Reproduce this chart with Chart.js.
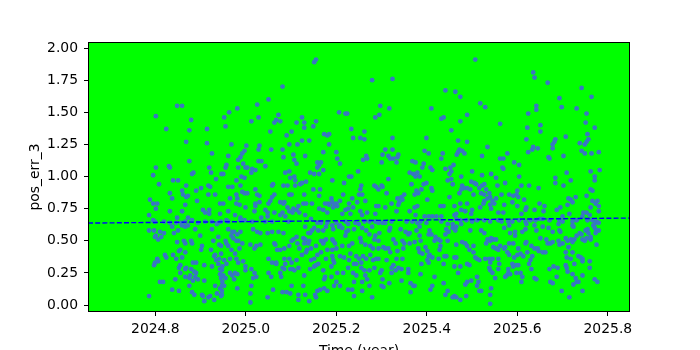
<!DOCTYPE html>
<html><head><meta charset="utf-8">
<script src="https://cdn.jsdelivr.net/npm/chart.js@4"></script>
<style>html,body{margin:0;padding:0;background:#fff}canvas{display:block}</style>
</head><body>
<canvas id="c" width="700" height="350"></canvas>
<script>
// observation epochs (decimal year)
const timeYear = [
2024.848,2024.859,2024.801,2024.879,2024.824,2024.875,2024.914,2024.868,2024.914,2024.925,
2024.875,2024.801,2024.830,2024.832,2024.919,2024.795,2024.881,2024.884,2024.923,2024.946,
2024.808,2024.839,2024.850,2024.868,2024.917,2024.921,2024.901,2024.934,2024.859,2024.890,
2024.832,2024.917,2024.861,2024.872,2024.868,2024.932,2024.788,2024.837,2024.892,2024.795,
2024.804,2024.866,2024.943,2024.801,2024.832,2024.859,2024.905,2024.910,2024.919,2024.919,
2024.943,2024.786,2024.872,2024.848,2024.795,2024.799,2024.819,2024.832,2024.846,2024.857,
2024.866,2024.881,2024.894,2024.910,2024.925,2024.939,2024.859,2024.866,2024.872,2024.786,
2024.797,2024.810,2024.819,2024.837,2024.841,2024.850,2024.888,2024.899,2024.925,2024.936,
2024.945,2024.801,2024.799,2024.806,2024.813,2024.848,2024.863,2024.866,2024.879,2024.881,
2024.903,2024.901,2024.928,2024.939,2024.941,2024.945,2024.852,2024.855,2024.866,2024.821,
2024.824,2024.839,2024.846,2024.859,2024.923,2024.932,2024.930,2024.934,2024.941,2024.945,
2024.804,2024.799,2024.797,2024.806,2024.883,2024.855,2024.852,2024.868,2024.866,2024.879,
2024.890,2024.886,2024.890,2024.908,2024.925,2024.939,2024.943,2024.948,2024.855,2024.866,
2024.877,2024.875,2024.888,2024.883,2024.894,2024.908,2024.844,2024.810,2024.817,2024.943,
2024.945,2024.948,2024.932,2024.875,2024.881,2024.886,2024.837,2024.852,2024.903,2024.905,
2024.908,2024.917,2024.921,2024.930,2024.786,2024.943,2024.936,2024.945,
2025.081,2025.050,2025.025,2024.981,2024.963,2024.952,2025.072,2025.067,2025.076,2025.063,
2024.955,2025.012,2025.028,2025.112,2025.054,2025.101,2025.090,2024.968,2025.001,2025.030,
2025.028,2025.056,2025.081,2025.096,2025.114,2024.997,2024.992,2024.988,2024.983,2024.961,
2025.083,2025.105,2025.107,2025.112,2025.028,2025.034,2024.994,2024.999,2024.957,2024.955,
2025.043,2025.014,2025.021,2025.012,2025.003,2024.983,2025.087,2025.096,2025.107,2025.109,
2024.950,2024.990,2024.997,2024.979,2024.988,2024.961,2024.970,2025.060,2025.058,2025.083,
2025.098,2025.092,2025.109,2025.120,2025.021,2025.025,2025.030,2024.992,2024.997,2025.003,
2024.979,2024.981,2024.986,2024.979,2024.965,2025.063,2025.058,2025.054,2025.050,2025.030,
2025.021,2025.021,2024.999,2025.076,2025.085,2025.096,2025.101,2025.083,2025.092,2025.116,
2025.112,2025.103,2025.096,2025.105,2025.043,2025.048,2025.063,2025.081,2024.950,2024.961,
2024.976,2024.988,2024.997,2025.019,2025.034,2025.048,2025.076,2025.118,2025.087,2024.957,
2024.961,2024.988,2025.014,2025.043,2025.058,2025.094,2024.961,2024.970,2024.974,2024.981,
2024.988,2024.968,2024.972,2024.979,2024.983,2024.992,2025.010,2025.019,2025.023,2025.032,
2025.016,2025.025,2025.032,2025.048,2025.058,2025.072,2025.083,2025.063,2025.065,2025.069,
2025.076,2025.085,2025.096,2025.101,2025.105,2025.112,2025.114,2025.118,2024.957,2024.961,
2024.968,2024.976,2024.986,2024.955,2024.952,2024.957,2024.965,2024.979,2024.983,2024.994,
2024.999,2025.012,2025.019,2025.023,2025.016,2025.050,2025.058,2025.067,2025.067,2025.085,
2025.087,2025.096,2025.101,2025.112,2025.103,2025.098,2025.107,2025.116,2025.081,2025.085,
2025.076,2025.078,2025.056,2025.050,2024.947,2024.950,2024.955,2024.965,2024.970,2024.976,
2024.981,2024.974,2024.999,2024.947,2024.952,2024.947,2024.947,2024.981,2025.012,2025.010,
2025.010,2025.048,2025.060,2025.081,2025.090,2025.098,2025.101,2025.116,2025.116,
2025.155,2025.151,2025.279,2025.206,2025.220,2025.224,2025.286,2025.124,2025.129,2025.129,
2025.155,2025.149,2025.233,2025.262,2025.237,2025.253,2025.262,2025.124,2025.140,2025.173,
2025.180,2025.184,2025.184,2025.171,2025.200,2025.131,2025.158,2025.166,2025.162,2025.158,
2025.171,2025.202,2025.208,2025.266,2025.268,2025.259,2025.248,2025.228,2025.233,2025.217,
2025.191,2025.142,2025.151,2025.162,2025.124,2025.133,2025.149,2025.164,2025.129,2025.162,
2025.146,2025.127,2025.133,2025.284,2025.288,2025.255,2025.253,2025.250,2025.257,2025.264,
2025.246,2025.235,2025.228,2025.215,2025.208,2025.200,2025.189,2025.191,2025.182,2025.184,
2025.175,2025.171,2025.162,2025.180,2025.202,2025.195,2025.193,2025.220,2025.226,2025.237,
2025.253,2025.257,2025.288,2025.286,2025.268,2025.144,2025.131,2025.213,2025.231,2025.158,
2025.166,2025.180,2025.191,2025.200,2025.208,2025.220,2025.226,2025.242,2025.250,2025.262,
2025.273,2025.279,2025.286,2025.131,2025.151,2025.146,2025.142,2025.138,2025.160,2025.171,
2025.177,2025.193,2025.206,2025.213,2025.222,2025.220,2025.226,2025.239,2025.257,2025.266,
2025.273,2025.286,2025.284,2025.127,2025.131,2025.140,2025.138,2025.129,2025.135,2025.144,
2025.155,2025.166,2025.173,2025.177,2025.191,2025.193,2025.197,2025.171,2025.180,2025.191,
2025.200,2025.213,2025.228,2025.235,2025.253,2025.255,2025.264,2025.275,2025.281,2025.124,
2025.133,2025.144,2025.151,2025.158,2025.166,2025.177,2025.191,2025.193,2025.195,2025.208,
2025.217,2025.228,2025.231,2025.239,2025.244,2025.244,2025.250,2025.255,2025.255,2025.259,
2025.266,2025.275,2025.281,2025.288,2025.284,2025.273,2025.262,2025.264,2025.129,2025.142,
2025.151,2025.155,2025.160,2025.171,2025.173,2025.175,2025.189,2025.189,2025.195,2025.200,
2025.202,2025.208,2025.215,2025.226,2025.226,2025.237,2025.239,2025.244,2025.257,2025.268,
2025.273,2025.279,2025.127,2025.131,2025.140,2025.153,2025.155,2025.158,2025.164,2025.173,
2025.180,2025.235,2025.239,2025.257,
2025.324,2025.441,2025.463,2025.297,2025.317,2025.410,2025.295,2025.437,2025.432,2025.454,
2025.324,2025.399,2025.308,2025.324,2025.302,2025.315,2025.319,2025.326,2025.337,2025.335,
2025.300,2025.333,2025.395,2025.404,2025.435,2025.432,2025.466,2025.368,2025.375,2025.393,
2025.390,2025.408,2025.412,2025.459,2025.452,2025.441,2025.454,2025.450,2025.454,2025.446,
2025.457,2025.362,2025.370,2025.375,2025.384,2025.379,2025.315,2025.366,2025.393,2025.399,
2025.410,2025.412,2025.300,2025.302,2025.293,2025.311,2025.350,2025.344,2025.335,2025.346,
2025.339,2025.337,2025.322,2025.377,2025.381,2025.373,2025.388,2025.401,2025.379,2025.373,
2025.362,2025.293,2025.308,2025.333,2025.430,2025.437,2025.450,2025.461,2025.375,2025.395,
2025.404,2025.412,2025.421,2025.432,2025.461,2025.293,2025.302,2025.308,2025.322,2025.355,
2025.368,2025.379,2025.386,2025.399,2025.432,2025.446,2025.457,2025.319,2025.295,2025.293,
2025.317,2025.342,2025.353,2025.359,2025.362,2025.384,2025.377,2025.384,2025.406,2025.410,
2025.404,2025.419,2025.426,2025.430,2025.417,2025.443,2025.448,2025.463,2025.441,2025.457,
2025.326,2025.331,2025.346,2025.350,2025.362,2025.373,2025.386,2025.348,2025.304,2025.308,
2025.315,2025.293,2025.335,2025.319,2025.381,2025.384,2025.390,2025.397,2025.401,2025.406,
2025.404,2025.412,2025.401,2025.428,2025.430,2025.446,2025.443,2025.439,2025.426,2025.461,
2025.293,2025.311,2025.333,2025.346,2025.326,2025.322,2025.331,2025.337,2025.344,2025.359,
2025.359,2025.388,2025.404,2025.437,2025.461,2025.300,2025.297,2025.322,2025.302,2025.317,
2025.300,2025.304,2025.386,2025.344,2025.364,2025.373,2025.370,2025.417,2025.437,2025.412,
2025.408,2025.364,2025.446,2025.441,2025.461,2025.457,
2025.507,2025.635,2025.638,2025.474,2025.518,2025.529,2025.489,2025.624,2025.474,2025.562,
2025.622,2025.620,2025.469,2025.489,2025.472,2025.469,2025.478,2025.483,2025.534,2025.624,
2025.635,2025.633,2025.522,2025.562,2025.569,2025.578,2025.567,2025.569,2025.593,2025.604,
2025.476,2025.500,2025.522,2025.542,2025.553,2025.573,2025.556,2025.604,2025.609,2025.626,
2025.478,2025.483,2025.476,2025.472,2025.489,2025.496,2025.503,2025.498,2025.505,2025.509,
2025.516,2025.522,2025.527,2025.531,2025.520,2025.527,2025.538,2025.540,2025.534,2025.527,
2025.525,2025.540,2025.549,2025.545,2025.553,2025.565,2025.582,2025.591,2025.598,2025.600,
2025.602,2025.615,2025.571,2025.589,2025.620,2025.474,2025.489,2025.476,2025.485,2025.500,
2025.518,2025.542,2025.558,2025.569,2025.600,2025.609,2025.618,2025.638,2025.465,2025.498,
2025.465,2025.474,2025.487,2025.500,2025.511,2025.527,2025.540,2025.558,2025.565,2025.580,
2025.589,2025.604,2025.618,2025.620,2025.629,2025.476,2025.465,2025.571,2025.582,2025.584,
2025.595,2025.595,2025.611,2025.618,2025.638,2025.496,2025.527,2025.534,2025.540,2025.547,
2025.553,2025.542,2025.520,2025.465,2025.478,2025.485,2025.489,2025.503,2025.503,2025.494,
2025.531,2025.547,2025.553,2025.558,2025.562,2025.571,2025.573,2025.582,2025.591,2025.602,
2025.618,2025.620,2025.631,2025.638,2025.465,2025.474,2025.489,2025.494,2025.507,2025.511,
2025.516,2025.529,2025.538,2025.540,2025.545,2025.558,2025.560,2025.578,2025.582,2025.593,
2025.600,2025.607,2025.613,2025.622,2025.626,2025.629,2025.633,2025.538,2025.540,2025.545,
2025.558,2025.580,2025.589,2025.591,2025.598,2025.602,2025.580,2025.576,2025.584,2025.573,
2025.598,2025.607,2025.611,2025.609,2025.631,2025.638,2025.469,2025.485,2025.489,2025.498,
2025.511,2025.514,2025.511,2025.516,2025.520,2025.551,2025.542,2025.540,2025.540,2025.474,
2025.487,2025.465,
2025.667,2025.742,2025.764,2025.693,2025.698,2025.642,2025.642,2025.731,2025.753,2025.751,
2025.651,2025.651,2025.771,2025.755,2025.757,2025.753,2025.749,2025.707,2025.684,2025.682,
2025.678,2025.678,2025.738,2025.645,2025.742,2025.749,2025.764,2025.780,2025.702,2025.669,
2025.671,2025.782,2025.709,2025.762,2025.771,2025.771,2025.684,2025.684,2025.718,2025.702,
2025.647,2025.762,2025.766,2025.753,2025.729,2025.713,2025.718,2025.722,2025.711,2025.766,
2025.777,2025.773,2025.780,2025.762,2025.780,2025.649,2025.660,2025.658,2025.695,2025.687,
2025.715,2025.700,2025.746,2025.753,2025.760,2025.744,2025.640,2025.649,2025.656,2025.671,
2025.693,2025.700,2025.722,2025.731,2025.766,2025.775,2025.773,2025.768,2025.780,2025.755,
2025.669,2025.656,2025.642,2025.678,2025.693,2025.695,2025.691,2025.722,2025.724,2025.738,
2025.731,2025.742,2025.751,2025.755,2025.757,2025.744,2025.749,2025.753,2025.762,2025.771,
2025.775,2025.780,2025.773,2025.651,2025.664,2025.667,2025.673,2025.678,2025.691,2025.693,
2025.700,2025.707,2025.711,2025.718,2025.713,2025.722,2025.726,2025.762,2025.775,2025.645,
2025.647,2025.656,2025.662,2025.707,2025.709,2025.722,2025.735,2025.740,2025.744,2025.744,
2025.760,2025.718,2025.671,2025.680,2025.689,2025.707,2025.709,2025.711,2025.726,2025.760,
2025.722,2025.744,2025.729,2025.731,2025.735,2025.724,2025.771,2025.777,2025.642,2025.673,
2025.678,2025.698,2025.744,2025.715,2025.687
];
// pos_err_3 value of each observation
const posErr3 = [
1.55,1.55,1.47,1.44,1.37,1.36,1.37,1.27,1.26,1.18,
1.12,1.07,1.08,1.07,1.07,1.01,1.02,1.03,1.03,1.02,
0.94,0.97,0.97,0.93,0.93,0.92,0.91,0.98,0.89,0.89,
0.87,0.86,0.86,0.85,0.84,0.86,0.82,0.83,0.81,0.79,
0.79,0.78,0.79,0.75,0.73,0.73,0.74,0.72,0.74,0.71,
0.71,0.70,0.68,0.68,0.66,0.65,0.65,0.64,0.64,0.64,
0.65,0.66,0.64,0.65,0.65,0.64,0.62,0.61,0.62,0.58,
0.58,0.57,0.56,0.61,0.56,0.58,0.59,0.54,0.59,0.63,
0.65,0.54,0.53,0.51,0.53,0.49,0.50,0.48,0.50,0.48,
0.46,0.43,0.50,0.53,0.47,0.46,0.42,0.43,0.41,0.39,
0.37,0.39,0.36,0.37,0.43,0.39,0.38,0.35,0.36,0.40,
0.36,0.33,0.31,0.34,0.33,0.31,0.29,0.29,0.28,0.28,
0.33,0.26,0.25,0.31,0.30,0.32,0.28,0.30,0.25,0.22,
0.23,0.21,0.22,0.19,0.20,0.19,0.20,0.18,0.18,0.24,
0.21,0.18,0.15,0.15,0.10,0.08,0.12,0.11,0.08,0.07,
0.03,0.06,0.07,0.04,0.07,0.13,0.09,0.07,
1.70,1.60,1.56,1.53,1.50,1.46,1.48,1.44,1.43,1.42,
1.39,1.43,1.46,1.42,1.35,1.35,1.32,1.25,1.24,1.24,
1.21,1.21,1.21,1.25,1.25,1.20,1.18,1.15,1.13,1.16,
1.15,1.17,1.13,1.10,1.12,1.12,1.10,1.07,1.09,1.07,
1.08,1.06,1.05,1.03,1.07,1.07,1.03,1.04,1.00,0.97,
1.02,1.00,0.99,0.97,0.93,0.92,0.92,0.94,0.93,0.93,
0.99,0.93,0.93,0.94,0.90,0.86,0.85,0.88,0.87,0.87,
0.86,0.83,0.78,0.79,0.83,0.86,0.84,0.81,0.79,0.80,
0.79,0.77,0.76,0.80,0.80,0.86,0.86,0.79,0.76,0.77,
0.74,0.72,0.73,0.75,0.74,0.72,0.72,0.72,0.79,0.73,
0.70,0.68,0.66,0.73,0.68,0.69,0.70,0.72,0.69,0.66,
0.65,0.66,0.65,0.65,0.65,0.65,0.59,0.57,0.57,0.55,
0.57,0.54,0.52,0.50,0.50,0.48,0.47,0.44,0.46,0.47,
0.59,0.57,0.56,0.56,0.57,0.57,0.56,0.48,0.47,0.43,
0.43,0.44,0.46,0.50,0.51,0.53,0.48,0.44,0.48,0.46,
0.43,0.40,0.44,0.50,0.35,0.32,0.36,0.36,0.33,0.34,
0.30,0.28,0.25,0.22,0.21,0.36,0.33,0.33,0.32,0.36,
0.32,0.36,0.33,0.35,0.28,0.28,0.27,0.29,0.29,0.28,
0.25,0.22,0.22,0.25,0.27,0.23,0.21,0.25,0.23,0.25,
0.24,0.20,0.27,0.15,0.15,0.11,0.08,0.13,0.15,0.09,
0.02,0.06,0.12,0.10,0.10,0.09,0.15,0.08,0.04,
1.91,1.89,1.75,1.50,1.49,1.49,1.46,1.46,1.42,1.38,
1.43,1.39,1.37,1.35,1.30,1.30,1.29,1.28,1.28,1.33,
1.32,1.33,1.25,1.19,1.19,1.16,1.11,1.11,1.09,1.07,
1.05,1.14,1.10,1.16,1.14,1.13,1.04,1.00,1.00,0.95,
0.97,1.03,1.02,1.02,0.95,0.96,0.90,0.90,0.86,0.85,
0.79,0.79,0.79,0.93,0.92,0.93,0.90,0.86,0.86,0.81,
0.80,0.83,0.79,0.86,0.81,0.79,0.83,0.80,0.79,0.78,
0.79,0.74,0.75,0.72,0.77,0.78,0.76,0.74,0.75,0.76,
0.73,0.70,0.77,0.71,0.72,0.67,0.70,0.71,0.71,0.64,
0.64,0.64,0.62,0.64,0.62,0.65,0.63,0.64,0.63,0.65,
0.65,0.61,0.65,0.61,0.60,0.58,0.56,0.56,0.58,0.58,
0.61,0.59,0.61,0.60,0.57,0.54,0.58,0.59,0.60,0.58,
0.55,0.54,0.51,0.52,0.51,0.50,0.48,0.48,0.43,0.44,
0.46,0.50,0.50,0.51,0.51,0.50,0.48,0.48,0.43,0.43,
0.44,0.46,0.46,0.48,0.52,0.49,0.47,0.46,0.44,0.39,
0.41,0.35,0.36,0.39,0.41,0.36,0.38,0.35,0.33,0.38,
0.37,0.35,0.40,0.32,0.38,0.32,0.36,0.33,0.29,0.38,
0.36,0.39,0.35,0.36,0.29,0.27,0.27,0.23,0.23,0.28,
0.30,0.31,0.32,0.27,0.20,0.22,0.30,0.22,0.15,0.18,
0.25,0.15,0.25,0.29,0.12,0.25,0.18,0.23,0.18,0.20,
0.15,0.06,0.15,0.08,0.03,0.08,0.06,0.11,0.12,0.13,
0.11,0.12,0.07,0.11,
1.76,1.67,1.66,1.55,1.53,1.53,1.48,1.46,1.45,1.36,
1.30,1.30,1.21,1.21,1.17,1.16,1.14,1.14,1.17,1.15,
1.11,1.11,1.20,1.18,1.18,1.14,1.17,1.12,1.11,1.10,
1.07,1.07,1.05,1.09,1.07,1.06,1.04,1.02,0.98,0.97,
0.94,1.03,1.02,1.00,1.00,1.03,0.98,0.94,0.94,0.95,
0.91,0.89,0.93,0.92,0.90,0.87,0.86,0.84,0.83,0.82,
0.80,0.78,0.79,0.89,0.87,0.86,0.90,0.82,0.77,0.76,
0.73,0.77,0.76,0.73,0.77,0.77,0.84,0.77,0.70,0.69,
0.69,0.69,0.69,0.69,0.70,0.64,0.64,0.64,0.65,0.65,
0.65,0.64,0.65,0.64,0.65,0.63,0.63,0.60,0.56,0.50,
0.58,0.59,0.57,0.55,0.56,0.61,0.58,0.54,0.58,0.55,
0.55,0.53,0.51,0.50,0.50,0.59,0.57,0.58,0.55,0.60,
0.51,0.48,0.50,0.48,0.48,0.49,0.50,0.44,0.45,0.44,
0.44,0.44,0.42,0.41,0.44,0.41,0.40,0.45,0.42,0.39,
0.38,0.37,0.35,0.43,0.46,0.50,0.38,0.38,0.36,0.37,
0.36,0.35,0.36,0.36,0.31,0.29,0.27,0.29,0.28,0.28,
0.25,0.32,0.33,0.32,0.30,0.27,0.25,0.25,0.20,0.17,
0.15,0.14,0.24,0.19,0.17,0.15,0.15,0.22,0.17,0.15,
0.12,0.10,0.11,0.08,0.07,0.06,
1.91,1.81,1.77,1.62,1.57,1.54,1.48,1.49,1.43,1.41,
1.38,1.29,1.28,1.27,1.21,1.19,1.20,1.18,1.23,1.19,
1.23,1.21,1.16,1.14,1.14,1.18,1.07,1.06,1.11,1.09,
1.00,1.04,1.01,1.02,0.99,0.95,0.93,1.00,0.93,0.93,
0.93,0.91,0.90,0.87,0.91,0.90,0.86,0.96,0.95,0.94,
0.91,0.93,0.94,0.90,0.87,0.86,0.87,0.84,0.83,0.81,
0.79,0.78,0.79,0.81,0.83,0.86,0.86,0.85,0.86,0.89,
0.84,0.82,0.78,0.80,0.76,0.79,0.79,0.74,0.73,0.74,
0.76,0.75,0.72,0.72,0.77,0.71,0.74,0.74,0.71,0.71,
0.67,0.66,0.66,0.65,0.66,0.66,0.65,0.66,0.65,0.65,
0.65,0.66,0.65,0.63,0.66,0.63,0.61,0.60,0.62,0.56,
0.57,0.54,0.57,0.59,0.62,0.58,0.56,0.51,0.50,0.51,
0.51,0.52,0.58,0.47,0.49,0.48,0.46,0.46,0.41,0.43,
0.48,0.45,0.44,0.43,0.46,0.44,0.45,0.48,0.48,0.44,
0.48,0.49,0.46,0.44,0.37,0.30,0.32,0.31,0.37,0.36,
0.35,0.36,0.36,0.33,0.36,0.36,0.32,0.41,0.39,0.37,
0.39,0.40,0.38,0.41,0.32,0.35,0.38,0.29,0.27,0.25,
0.28,0.28,0.32,0.30,0.31,0.31,0.25,0.23,0.24,0.22,
0.25,0.25,0.22,0.18,0.28,0.21,0.25,0.16,0.18,0.19,
0.22,0.18,0.15,0.11,0.11,0.21,0.13,0.08,0.01,0.04,
0.07,0.06,
1.73,1.69,1.62,1.61,1.54,1.55,1.52,1.53,1.49,1.42,
1.40,1.35,1.38,1.33,1.29,1.27,1.25,1.31,1.29,1.27,
1.25,1.22,1.26,1.22,1.20,1.18,1.18,1.19,1.16,1.15,
1.14,1.05,1.03,1.04,1.00,0.97,0.99,0.95,0.97,0.93,
0.91,0.90,0.89,0.85,0.84,0.83,0.82,0.80,0.78,0.81,
0.81,0.79,0.77,0.76,0.73,0.79,0.77,0.73,0.76,0.74,
0.71,0.69,0.72,0.72,0.70,0.69,0.66,0.67,0.67,0.66,
0.66,0.65,0.65,0.66,0.66,0.65,0.64,0.62,0.64,0.66,
0.60,0.61,0.58,0.57,0.58,0.57,0.63,0.62,0.61,0.56,
0.54,0.55,0.58,0.59,0.56,0.51,0.50,0.52,0.51,0.60,
0.58,0.58,0.56,0.52,0.51,0.48,0.48,0.49,0.50,0.47,
0.48,0.52,0.50,0.51,0.45,0.49,0.51,0.53,0.47,0.44,
0.42,0.41,0.41,0.41,0.37,0.41,0.38,0.37,0.36,0.34,
0.34,0.36,0.28,0.30,0.29,0.31,0.29,0.26,0.32,0.29,
0.24,0.23,0.21,0.18,0.18,0.16,0.20,0.18,0.20,0.18,
0.17,0.11,0.11,0.06,0.22
];
// linear trend endpoints (year, value)
const trendYears = [2024.651, 2025.849];
const trendValues = [0.638, 0.677];
// axis ranges and ticks
const xRange = [2024.651, 2025.849];
const yRange = [-0.054, 2.047];
const xTicks = [2024.8, 2025.0, 2025.2, 2025.4, 2025.6, 2025.8];
const yTicks = [0, 0.25, 0.5, 0.75, 1.0, 1.25, 1.5, 1.75, 2.0];

const points = timeYear.map((t, i) => ({x: t, y: posErr3[i]}));
const trend = trendYears.map((t, i) => ({x: t, y: trendValues[i]}));

const font = {family: 'DejaVu Sans', size: 13.9};

const frame = {
  id: 'frame',
  beforeDraw(chart) {
    const {ctx, chartArea: a} = chart;
    ctx.save();
    ctx.fillStyle = '#00ff00';
    ctx.fillRect(a.left, a.top, a.width, a.height);
    ctx.restore();
  },
  afterDraw(chart) {
    const {ctx, chartArea: a} = chart;
    ctx.save();
    ctx.strokeStyle = '#000';
    ctx.lineWidth = 1;
    ctx.strokeRect(a.left + 0.5, a.top + 0.5, a.width - 1, a.height - 1);
    ctx.restore();
  }
};

new Chart(document.getElementById('c'), {
  type: 'scatter',
  data: {
    datasets: [
      {
        type: 'line',
        data: trend,
        borderColor: '#0000ff',
        borderWidth: 1.4,
        borderDash: [5, 2.2],
        pointRadius: 0,
        fill: false,
        order: 0
      },
      {
        data: points,
        pointRadius: 2.4,
        pointBackgroundColor: '#3877c2',
        pointBorderWidth: 0,
        pointHoverRadius: 2.4,
        order: 1
      }
    ]
  },
  options: {
    responsive: false,
    animation: false,
    devicePixelRatio: 1,
    layout: {padding: {left: 0, right: 70, top: 42, bottom: 0}},
    plugins: {legend: {display: false}, tooltip: {enabled: false}},
    events: [],
    scales: {
      x: {
        type: 'linear',
        min: xRange[0],
        max: xRange[1],
        afterFit(s) { s.height = 38; },
        afterBuildTicks(s) { s.ticks = xTicks.map(v => ({value: v})); },
        ticks: {callback: v => Number(v).toFixed(1), color: '#000', font, padding: 5, maxRotation: 0, autoSkip: false},
        grid: {drawOnChartArea: false, drawTicks: true, tickLength: 4, tickColor: '#000', tickWidth: 1},
        border: {display: false},
        title: {display: true, text: 'Time (year)', color: '#000', font, padding: {top: 0, bottom: -9.3}}
      },
      y: {
        type: 'linear',
        min: yRange[0],
        max: yRange[1],
        afterFit(s) { s.width = 88; },
        afterBuildTicks(s) { s.ticks = yTicks.map(v => ({value: v})); },
        ticks: {callback: v => Number(v).toFixed(2), color: '#000', font, padding: 6, autoSkip: false},
        grid: {drawOnChartArea: false, drawTicks: true, tickLength: 4, tickColor: '#000', tickWidth: 1},
        border: {display: false},
        title: {display: true, text: 'pos_err_3', color: '#000', font, padding: {top: 27, bottom: 0}}
      }
    }
  },
  plugins: [frame]
});
</script>
</body></html>
